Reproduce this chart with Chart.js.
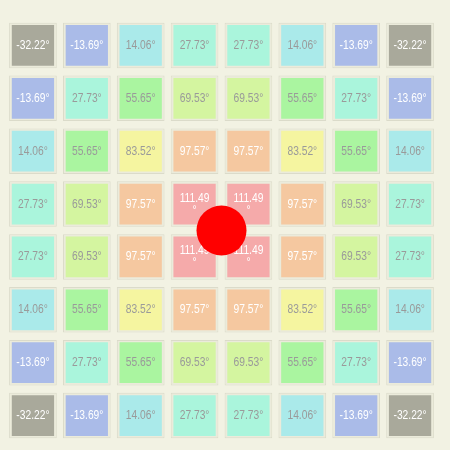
<!DOCTYPE html>
<html>
<head>
<meta charset="utf-8">
<script src="https://cdn.jsdelivr.net/npm/chart.js@4.4.1/dist/chart.umd.min.js"></script>
<style>
  html, body { margin: 0; padding: 0; background: #f2f2e3; }
  #wrap { width: 450px; height: 450px; }
</style>
</head>
<body>
<div id="wrap"><canvas id="c" width="450" height="450"></canvas></div>
<script>
// ---- data ----
const columns = ['C1', 'C2', 'C3', 'C4', 'C5', 'C6', 'C7', 'C8'];
const row1 = [-32.22, -13.69, 14.06, 27.73, 27.73, 14.06, -13.69, -32.22];
const row2 = [-13.69, 27.73, 55.65, 69.53, 69.53, 55.65, 27.73, -13.69];
const row3 = [14.06, 55.65, 83.52, 97.57, 97.57, 83.52, 55.65, 14.06];
const row4 = [27.73, 69.53, 97.57, 111.49, 111.49, 97.57, 69.53, 27.73];
const row5 = [27.73, 69.53, 97.57, 111.49, 111.49, 97.57, 69.53, 27.73];
const row6 = [14.06, 55.65, 83.52, 97.57, 97.57, 83.52, 55.65, 14.06];
const row7 = [-13.69, 27.73, 55.65, 69.53, 69.53, 55.65, 27.73, -13.69];
const row8 = [-32.22, -13.69, 14.06, 27.73, 27.73, 14.06, -13.69, -32.22];
const rows = [row1, row2, row3, row4, row5, row6, row7, row8];

// colour scale (value thresholds -> fill colour / label colour)
const levels      = [-32.22, -13.69, 14.06, 27.73, 55.65, 69.53, 83.52, 97.57, 111.49];
const levelColors = ['#a9a99b', '#aabbe8', '#aaeaea', '#aaf5dc', '#aaf5a0', '#d4f5a0', '#f5f5a0', '#f5c8a0', '#f5aaaa'];
const levelText   = ['#ffffff', '#ffffff', '#9a9a9a', '#9a9a9a', '#9a9a9a', '#9a9a9a', '#9a9a9a', '#ffffff', '#ffffff'];

// red marker (column / row position on the grid)
const marker = { x: 3.5, y: 4 };

// ---- helpers ----
function levelIndex(v) {
  let idx = 0;
  for (let i = 0; i < levels.length; i++) if (v >= levels[i] - 0.001) idx = i;
  return idx;
}

const datasets = [];
datasets.push({
  type: 'scatter',
  label: 'marker',
  xAxisID: 'x2',
  yAxisID: 'y',
  data: [marker],
  pointRadius: 25,
  pointHoverRadius: 25,
  pointBackgroundColor: '#ff0000',
  pointBorderColor: '#ff0000',
  pointBorderWidth: 0,
  clip: false,
  order: 0
});
rows.forEach((vals, r) => {
  datasets.push({
    type: 'bar',
    label: 'frame' + r,
    data: vals.map(() => [r + 0.069, r + 0.931]),
    backgroundColor: '#ebebdb',
    borderColor: '#dbdbca',
    borderWidth: 1,
    borderSkipped: false,
    barPercentage: 0.885,
    categoryPercentage: 1,
    order: 3
  });
});
rows.forEach((vals, r) => {
  datasets.push({
    type: 'bar',
    label: 'row' + r,
    values: vals,
    isCell: true,
    data: vals.map(() => [r + 0.115, r + 0.885]),
    backgroundColor: vals.map(v => levelColors[levelIndex(v)]),
    borderWidth: 0,
    borderSkipped: false,
    barPercentage: 0.785,
    categoryPercentage: 1,
    order: 2
  });
});

const FONT = '12.5px "Liberation Sans", Arial, sans-serif';
const NARROW = 0.82;

const labelPlugin = {
  id: 'cellLabels',
  afterDatasetDraw(chart, args) {
    const ds = chart.data.datasets[args.index];
    if (!ds.isCell) return;
    const ctx = chart.ctx;
    const meta = args.meta;
    const draw = (t, x, y) => {
      ctx.save();
      ctx.translate(x, y);
      ctx.scale(NARROW, 1);
      ctx.fillText(t, 0, 0);
      ctx.restore();
    };
    ctx.save();
    ctx.font = FONT;
    ctx.textAlign = 'center';
    ctx.textBaseline = 'middle';
    meta.data.forEach((el, i) => {
      const v = ds.values[i];
      const p = el.getCenterPoint();
      ctx.fillStyle = levelText[levelIndex(v)];
      const txt = v.toFixed(2);
      if (Math.abs(v) >= 100) {
        draw(txt, p.x, p.y - 6);
        draw('°', p.x, p.y + 6);
      } else {
        draw(txt + '°', p.x, p.y);
      }
    });
    ctx.restore();
  }
};

const bgPlugin = {
  id: 'bg',
  beforeDraw(chart) {
    const ctx = chart.ctx;
    ctx.save();
    ctx.fillStyle = '#f2f2e3';
    ctx.fillRect(0, 0, chart.width, chart.height);
    ctx.restore();
  }
};

new Chart(document.getElementById('c'), {
  type: 'bar',
  data: { labels: columns, datasets },
  options: {
    responsive: false,
    animation: false,
    events: [],
    layout: { autoPadding: false, padding: { left: 6, right: 13, top: 19, bottom: 8 } },
    datasets: { bar: { grouped: false } },
    plugins: { legend: { display: false }, tooltip: { enabled: false } },
    scales: {
      x: { type: 'category', display: false, offset: true, grid: { display: false } },
      x2: { type: 'linear', display: false, min: -0.5, max: 7.5 },
      y: { type: 'linear', display: false, min: 0, max: 8, reverse: true }
    }
  },
  plugins: [bgPlugin, labelPlugin]
});
</script>
</body>
</html>
